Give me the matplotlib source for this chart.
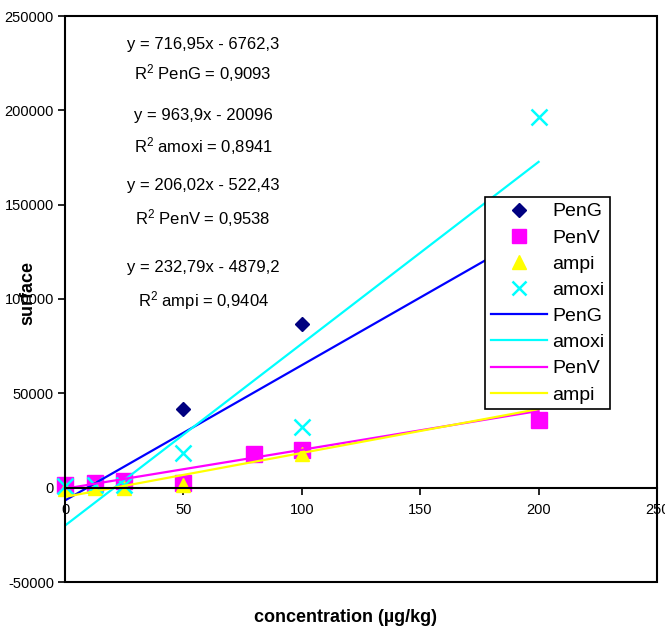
import matplotlib
matplotlib.use('Agg')
import matplotlib.pyplot as plt
from matplotlib.patches import Rectangle

plt.rcParams['font.family'] = ['Liberation Sans', 'DejaVu Sans']
plt.rcParams['mathtext.fontset'] = 'custom'
plt.rcParams['mathtext.rm'] = 'Liberation Sans'
plt.rcParams['mathtext.it'] = 'Liberation Sans'

concPenG = [0, 12.5, 25, 50, 100, 200]
surfPenG = [1000, 2000, 3000, 41500, 86700, 135000]
concPenV = [0, 12.5, 25, 50, 80, 100, 200]
surfPenV = [1500, 2500, 3500, 2500, 18000, 20000, 35900]
concAmpi = [0, 12.5, 25, 50, 100, 200]
surfAmpi = [-500, 0, 0, 1400, 17900, 48000]
concAmoxi = [0, 12.5, 25, 50, 100, 200]
surfAmoxi = [1000, 1500, 1500, 18400, 32300, 196400]

# trend lines (slope, intercept) as printed on the chart
fitNames = ['PenG', 'amoxi', 'PenV', 'ampi']
fitSlope = [716.95, 963.9, 206.02, 232.79]
fitIntercept = [-6762.3, -20096, -522.43, -4879.2]
fitR2 = ['0,9093', '0,8941', '0,9538', '0,9404']
fitEq = ['y = 716,95x - 6762,3', 'y = 963,9x - 20096',
         'y = 206,02x - 522,43', 'y = 232,79x - 4879,2']
fitRange = [0, 200]

fig = plt.figure(figsize=(6.65, 6.32), dpi=100)
ax = fig.add_axes([65/665, 50/632, 592/665, 566/632])

ax.plot(concPenG, surfPenG, 'D', color='#000080', ms=7.6, label='PenG', clip_on=False)
ax.plot(concPenV, surfPenV, 's', color='#FF00FF', ms=11, label='PenV', clip_on=False)
ax.plot(concAmpi, surfAmpi, '^', color='#FFFF00', ms=10, label='ampi', clip_on=False)
ax.plot(concAmoxi, surfAmoxi, 'x', color='#00FFFF', ms=11, mew=1.8, label='amoxi', clip_on=False)

lineColors = ['#0000FF', '#00FFFF', '#FF00FF', '#FFFF00']
for i in range(4):
	yy = [fitSlope[i]*x + fitIntercept[i] for x in fitRange]
	ax.plot(fitRange, yy, '-', color=lineColors[i], lw=1.6, label=fitNames[i])

textY = [235100, 219800, 197000, 181100, 159900, 142900, 116500, 99000]
for i in range(4):
	ax.text(58.3, textY[2*i], fitEq[i], ha='center', va='center', fontsize=12)
	ax.text(58.3, textY[2*i+1], 'R$^2$ ' + fitNames[i] + ' = ' + fitR2[i],
		ha='center', va='center', fontsize=12)

ax.set_xlim(0, 250)
ax.set_ylim(-50000, 250000)
ax.set_xticks([0, 50, 100, 150, 200, 250])
ax.set_yticks([-50000, 0, 50000, 100000, 150000, 200000, 250000])
ax.set_yticklabels(['-50000', '0', '50000', '100000', '150000', '200000', '250000'])

# x axis crosses at y = 0, frame drawn separately
ax.spines['bottom'].set_position(('data', 0))
for s in ['top', 'right', 'left']:
	ax.spines[s].set_visible(False)
ax.spines['bottom'].set_linewidth(1.5)
ax.add_patch(Rectangle((0, 0), 1, 1, transform=ax.transAxes, fill=False,
	lw=1.5, color='black', clip_on=False, zorder=5))
ax.tick_params(axis='both', direction='out', length=5, width=1.2, labelsize=10.5)
ax.tick_params(axis='x', pad=6)
ax.tick_params(axis='y', pad=3)

ax.set_xlabel('concentration (µg/kg)', fontsize=13, fontweight='bold')
ax.set_ylabel('surface', fontsize=13, fontweight='bold')
ax.xaxis.set_label_coords(0.473, -0.048)
ax.yaxis.set_label_coords(-0.049, 0.51)

leg = ax.legend(loc='upper left', bbox_to_anchor=(420/592, (582-197)/566),
	fontsize=14, frameon=True, fancybox=False, framealpha=1, edgecolor='black',
	borderpad=0.3, labelspacing=0.44, handlelength=2.9, handletextpad=0.25,
	borderaxespad=0, markerscale=0.95)
leg.get_frame().set_linewidth(1.2)
leg.set_zorder(10)

plt.savefig('out.png', dpi=100)
